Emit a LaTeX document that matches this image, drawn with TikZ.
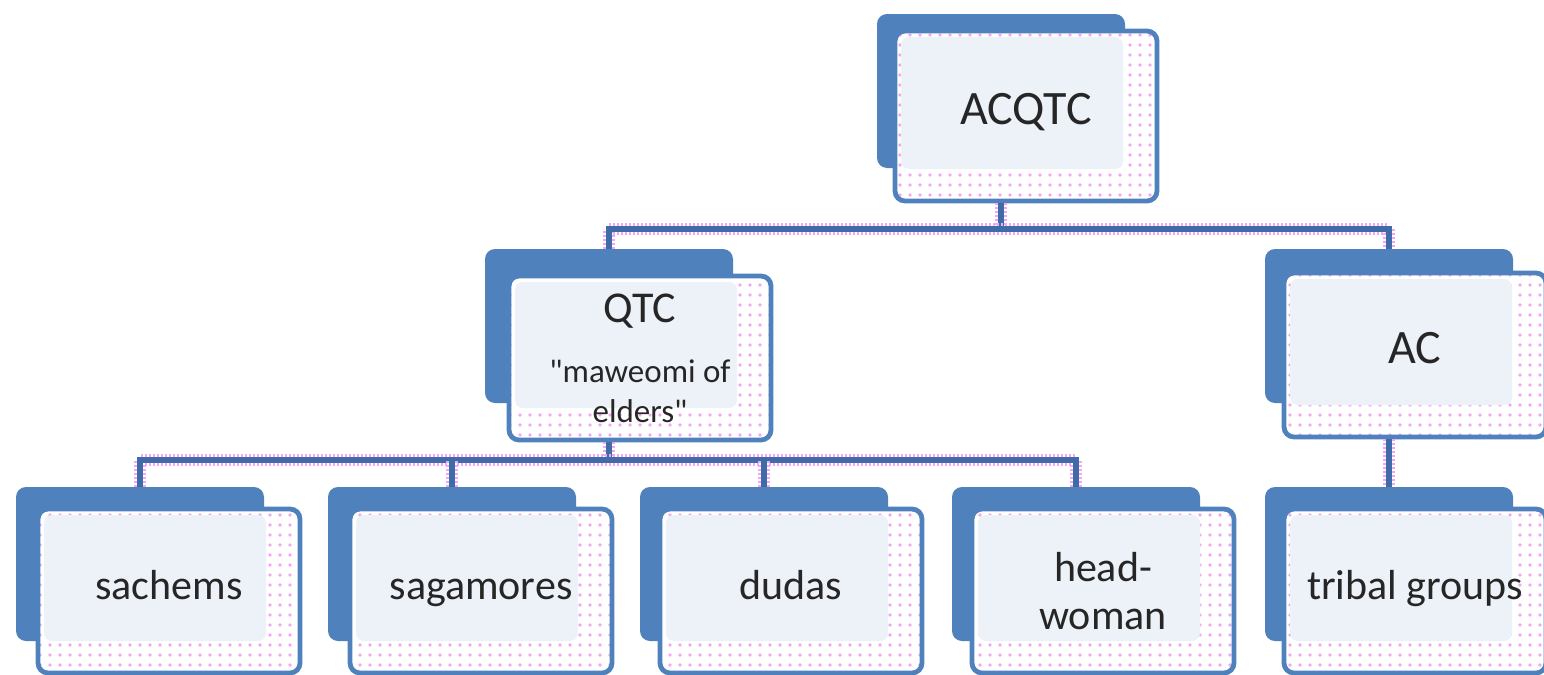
\documentclass[tikz,border=0pt]{standalone}
\usepackage{fontspec}
\setmainfont{Carlito}[Ligatures=TeXOff]
\usetikzlibrary{patterns.meta}
\definecolor{chartblue}{HTML}{4F81BD}
\definecolor{linkblue}{HTML}{3F6CA8}
\definecolor{panel}{HTML}{EDF1F8}
\definecolor{halo}{HTML}{F2A8F0}
\tikzset{
  backbox/.style={fill=chartblue, rounded corners=5pt, minimum width=124pt, minimum height=77pt, inner sep=0pt},
  frontbox/.style={draw=chartblue, line width=2.4pt, fill=white, rounded corners=5pt,
    minimum width=131pt, minimum height=82pt, inner sep=2pt, align=center,
    text height=1.85ex, text depth=0.15ex,
    font=\fontsize{21}{24}\selectfont, text=black!85,
    path picture={
      \fill[pattern={Dots[distance=5pt, radius=0.9pt]}, pattern color=halo]
        (path picture bounding box.south west) rectangle (path picture bounding box.north east);
      \fill[panel, rounded corners=4pt]
        ([shift={(3pt,-3pt)}]path picture bounding box.north west) rectangle
        ([shift={(-17pt,16pt)}]path picture bounding box.south east);
    }},
  link/.style={draw=linkblue, line width=2.6pt, preaction={draw=halo, line width=5.6pt, dash pattern=on 1pt off 1pt}},
}
\begin{document}
\begin{tikzpicture}[x=0.5pt, y=-0.5pt]
\useasboundingbox (0,0) rectangle (1544,675);

% top
\node[backbox] (acqtcB) at (1001,91) {};
\node[frontbox, minimum height=85pt, font=\fontsize{24}{28}\selectfont] (acqtc) at (1026,116) {ACQTC};

% middle row
\node[backbox] (qtcB) at (609,326) {};
\node[frontbox, text height=, text depth=] (qtc) at (640,358) {{\fontsize{22}{26}\selectfont QTC}\\[6pt]{\fontsize{16.5}{15}\selectfont "maweomi of}\\[-4pt]{\fontsize{16.5}{15}\selectfont elders"}};
\node[backbox] (acB) at (1389,326) {};
\node[frontbox, font=\fontsize{24}{28}\selectfont] (ac) at (1415,355) {AC};

% bottom row
\node[backbox] (sachemsB) at (140,564) {};
\node[frontbox] (sachems) at (169,591) {sachems};
\node[backbox] (sagamoresB) at (452,564) {};
\node[frontbox] (sagamores) at (481,591) {sagamores};
\node[backbox] (dudasB) at (764,564) {};
\node[frontbox] (dudas) at (791,591) {dudas};
\node[backbox] (headwomanB) at (1076,564) {};
\node[frontbox, text height=, text depth=] (headwoman) at (1103,591) {head-\\woman};
\node[backbox] (tribalB) at (1389,564) {};
\node[frontbox] (tribal) at (1415,591) {tribal groups};

% connectors
\coordinate (topbus) at (1001,229);
\coordinate (midbus) at (609,460);
\draw[link] (acqtcB.south |- acqtc.south) -- (topbus);
\draw[link] (qtcB.north) |- (topbus) -| (acB.north);
\draw[link] (qtcB.south |- qtc.south) -- (midbus);
\draw[link] (sachemsB.north) |- (midbus) -| (headwomanB.north);
\draw[link] (sagamoresB.north) -- (sagamoresB.north |- midbus);
\draw[link] (dudasB.north) -- (dudasB.north |- midbus);
\draw[link] (acB.south |- ac.south) -- (tribalB.north);
\end{tikzpicture}
\end{document}
